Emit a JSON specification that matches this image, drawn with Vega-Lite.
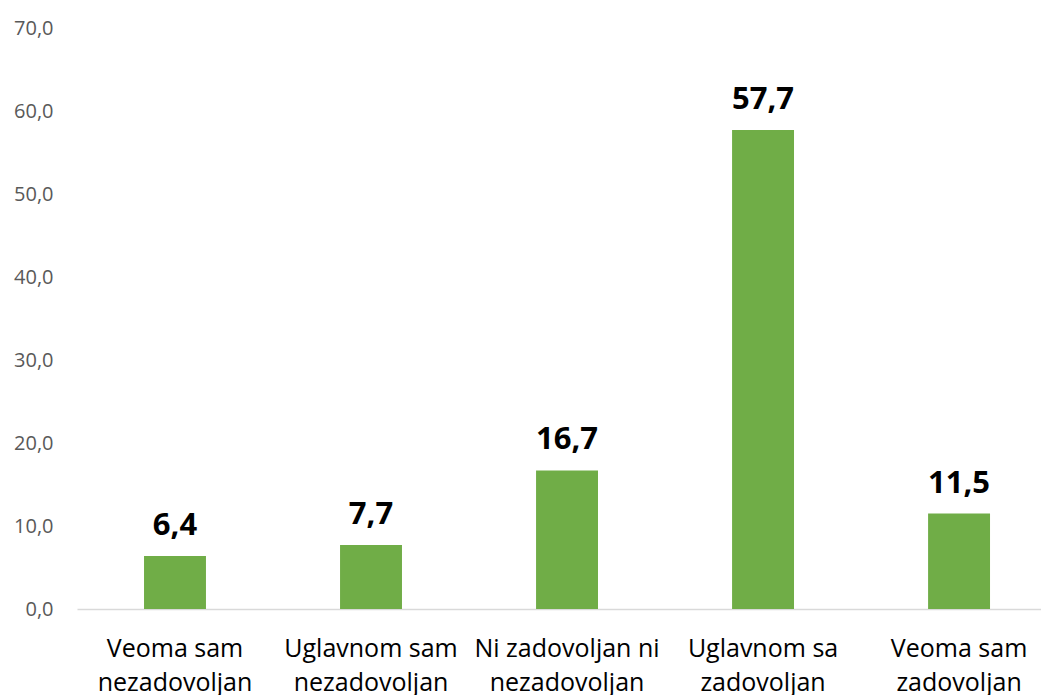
{
  "$schema": "https://vega.github.io/schema/vega-lite/v6.json",
  "autosize": "none",
  "width": 964,
  "height": 581,
  "padding": {"left": 77, "top": 28, "right": 0, "bottom": 86},
  "background": "white",
  "config": {"view": {"stroke": null}, "font": "Open Sans"},
  "data": {
    "values": [
      {"kategorija": "Veoma sam|nezadovoljan", "procenat": 6.4},
      {"kategorija": "Uglavnom sam|nezadovoljan", "procenat": 7.7},
      {"kategorija": "Ni zadovoljan ni|nezadovoljan", "procenat": 16.7},
      {"kategorija": "Uglavnom sa|zadovoljan", "procenat": 57.7},
      {"kategorija": "Veoma sam|zadovoljan", "procenat": 11.5}
    ]
  },
  "encoding": {
    "x": {
      "field": "kategorija",
      "type": "nominal",
      "sort": null,
      "scale": {"paddingInner": 0.684, "paddingOuter": 0.301, "align": 0.568},
      "axis": {
        "title": null,
        "labelAngle": 0,
        "labelExpr": "split(datum.label, '|')",
        "labelFontSize": 25,
        "labelColor": "#000000",
        "labelLineHeight": 34,
        "labelPadding": 27,
        "labelBaseline": "top",
        "ticks": false,
        "domainColor": "#d9d9d9",
        "domainWidth": 1.5,
        "labelLimit": 300
      }
    },
    "y": {
      "field": "procenat",
      "type": "quantitative",
      "scale": {"domain": [0, 70]},
      "axis": {
        "title": null,
        "values": [0, 10, 20, 30, 40, 50, 60, 70],
        "labelExpr": "replace(format(datum.value, '.1f'), '.', ',')",
        "labelFontSize": 20,
        "labelColor": "#595959",
        "labelPadding": 24,
        "ticks": false,
        "domain": false,
        "grid": false
      }
    }
  },
  "layer": [
    {"mark": {"type": "bar", "color": "#70ad47"}},
    {
      "transform": [{"calculate": "replace(format(datum.procenat, '.1f'), '.', ',')", "as": "oznaka"}],
      "mark": {"type": "text", "fontSize": 31, "fontWeight": "bold", "color": "#000000", "baseline": "alphabetic", "dy": -21},
      "encoding": {
        "text": {"field": "oznaka", "type": "nominal"}
      }
    }
  ]
}
